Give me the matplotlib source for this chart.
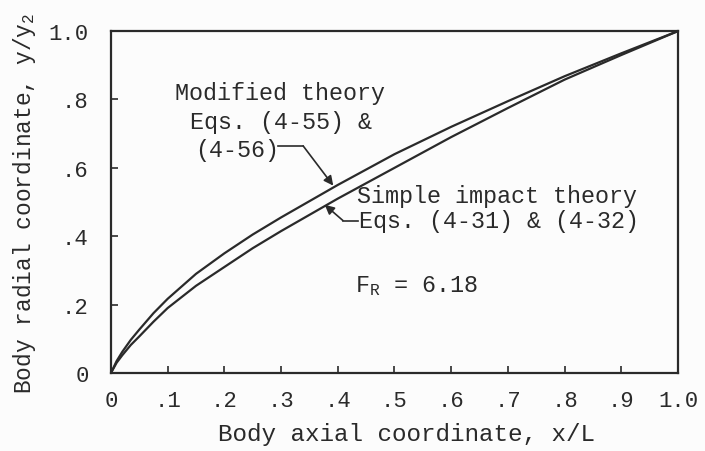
import matplotlib
matplotlib.use("Agg")
import matplotlib.pyplot as plt

# Body profile coordinates (x/L, y/y2)
x_over_L = [0, 0.01, 0.02, 0.035, 0.05, 0.075, 0.1, 0.15, 0.2, 0.25, 0.3, 0.4,
            0.5, 0.6, 0.7, 0.8, 0.9, 1.0]
y_modified = [0, 0.035, 0.062, 0.097, 0.127, 0.175, 0.217, 0.29, 0.35, 0.405,
              0.455, 0.55, 0.64, 0.72, 0.795, 0.868, 0.935, 1.0]
y_simple = [0, 0.03, 0.052, 0.082, 0.107, 0.15, 0.19, 0.255, 0.31, 0.365,
            0.415, 0.51, 0.60, 0.69, 0.775, 0.858, 0.93, 1.0]

x_ticks = [0, 0.1, 0.2, 0.3, 0.4, 0.5, 0.6, 0.7, 0.8, 0.9, 1.0]
x_ticklabels = ["0", ".1", ".2", ".3", ".4", ".5", ".6", ".7", ".8", ".9", "1.0"]
y_ticks = [0, 0.2, 0.4, 0.6, 0.8, 1.0]
y_ticklabels = ["0", ".2", ".4", ".6", ".8", "1.0"]

ink = "#2a2a2a"
plt.rcParams["font.family"] = ["Liberation Mono", "DejaVu Sans Mono"]
plt.rcParams["mathtext.fontset"] = "custom"
plt.rcParams["mathtext.rm"] = "Liberation Mono"
plt.rcParams["mathtext.it"] = "Liberation Mono"

fig = plt.figure(figsize=(7.05, 4.52), dpi=100, facecolor="#fcfcfc")
ax = fig.add_axes([0.1574, 0.1726, 0.8043, 0.7564])
ax.set_facecolor("#fcfcfc")

ax.plot(x_over_L, y_modified, color=ink, lw=1.6, solid_joinstyle="round")
ax.plot(x_over_L, y_simple, color=ink, lw=1.6, solid_joinstyle="round")

ax.set_xlim(0, 1.0)
ax.set_ylim(0, 1.0)
ax.set_xticks(x_ticks)
ax.set_xticklabels(x_ticklabels)
ax.set_yticks(y_ticks)
ax.set_yticklabels(y_ticklabels)
ax.tick_params(direction="in", length=5, width=1.2, color=ink,
               labelsize=16, labelcolor=ink)
ax.tick_params(axis="x", pad=12)
ax.tick_params(axis="y", pad=16)
for s in ax.spines.values():
    s.set_color(ink)
    s.set_linewidth(1.6)

ax.set_xlabel("Body axial coordinate, x/L", fontsize=17.5, color=ink)
ax.set_ylabel("Body radial coordinate, y/y$_2$", fontsize=16.5, color=ink)
ax.xaxis.set_label_coords(0.522, -0.142)
ax.yaxis.set_label_coords(-0.128, 0.5)

fs = 16.8
ax.text(0.113, 0.819, "Modified theory", fontsize=fs, color=ink, va="center")
ax.text(0.139, 0.737, "Eqs. (4-55) &", fontsize=fs, color=ink, va="center")
ax.text(0.148, 0.655, "(4-56)", fontsize=fs, color=ink, va="center")
ax.plot([0.295, 0.339], [0.664, 0.664], color=ink, lw=1.2)
ax.annotate("", xy=(0.392, 0.548), xytext=(0.339, 0.664),
            arrowprops=dict(arrowstyle="-|>", color=ink, lw=1.2,
                            mutation_scale=14, shrinkA=0, shrinkB=0))

ax.text(0.434, 0.518, "Simple impact theory", fontsize=fs, color=ink, va="center")
ax.text(0.438, 0.446, "Eqs. (4-31) & (4-32)", fontsize=fs, color=ink, va="center")
ax.plot([0.409, 0.436], [0.446, 0.446], color=ink, lw=1.2)
ax.annotate("", xy=(0.377, 0.492), xytext=(0.409, 0.446),
            arrowprops=dict(arrowstyle="-|>", color=ink, lw=1.2,
                            mutation_scale=14, shrinkA=0, shrinkB=0))

ax.text(0.43, 0.257, "F$_R$ = 6.18", fontsize=fs, color=ink, va="center")

fig.savefig("out.png", dpi=100, facecolor=fig.get_facecolor())
